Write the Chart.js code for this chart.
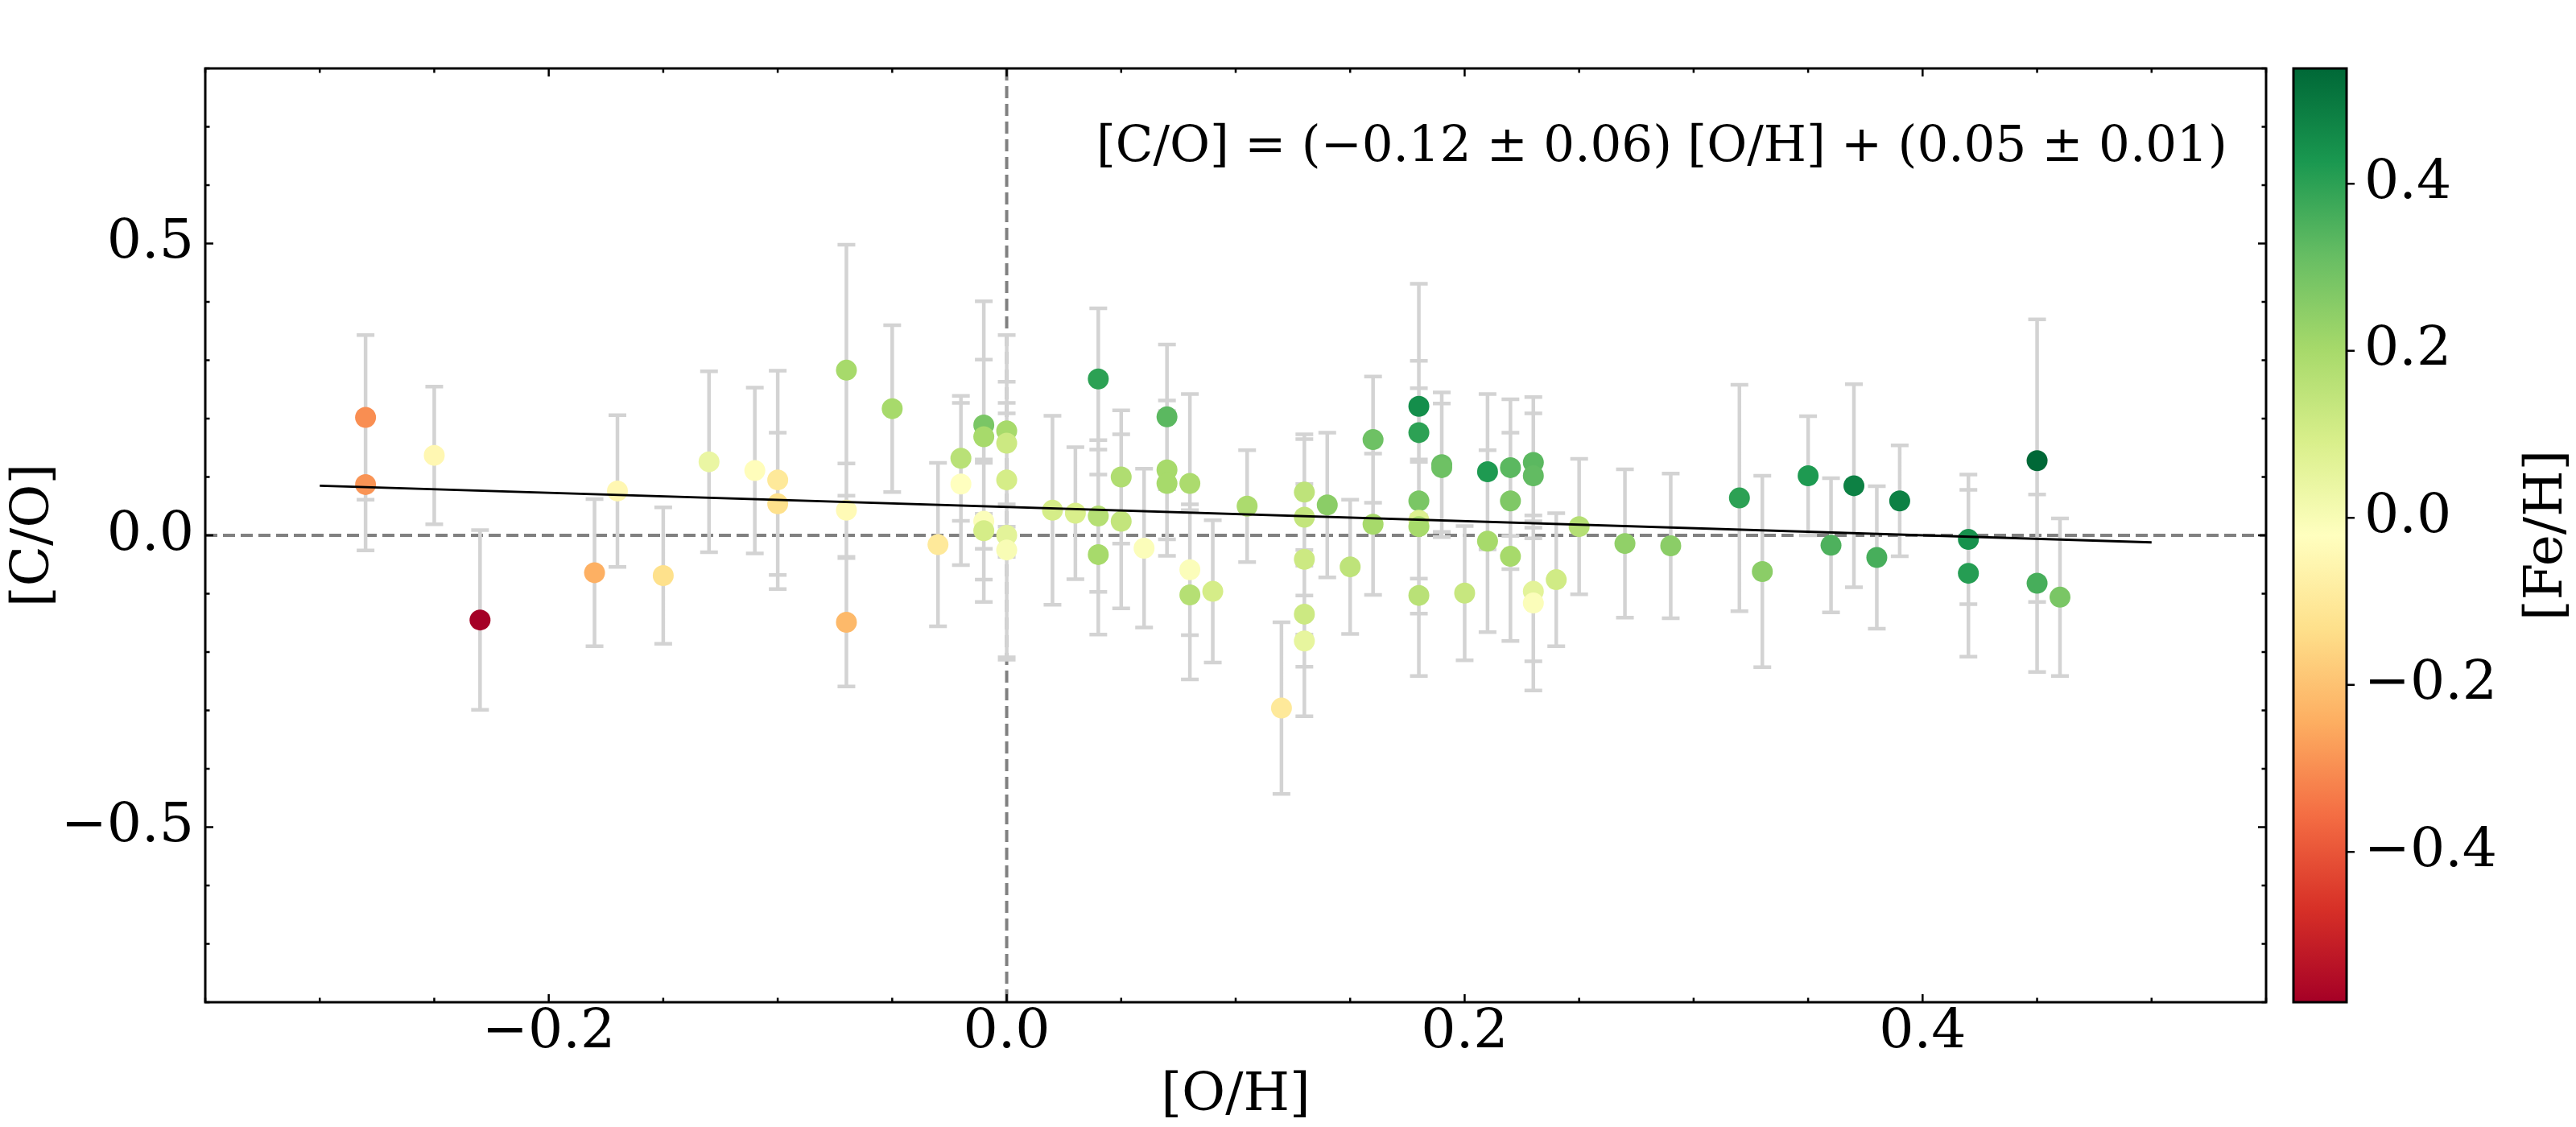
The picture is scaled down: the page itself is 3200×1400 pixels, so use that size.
<!DOCTYPE html>
<html>
<head>
<meta charset="utf-8">
<script src="https://cdn.jsdelivr.net/npm/chart.js@4.4.1/dist/chart.umd.min.js"></script>
<style>
  html, body { margin: 0; padding: 0; background: #fff; }
  #wrap { width: 3200px; height: 1400px; }
</style>
</head>
<body>
<div id="wrap"><canvas id="chart" width="3200" height="1400"></canvas></div>
<script>
// [O/H] of each star
const oh = [
  -0.28, -0.28, -0.25, -0.23, -0.18, -0.17, -0.15, -0.13, -0.11,
  -0.10, -0.10, -0.07, -0.07, -0.07, -0.05, -0.03, -0.02, -0.02,
  -0.01, -0.01, -0.01, -0.01, 0.00, 0.00, 0.00, 0.00, 0.00,
  0.02, 0.03, 0.04, 0.04, 0.04, 0.05, 0.05, 0.06, 0.07, 0.07, 0.07,
  0.08, 0.08, 0.08, 0.09, 0.105, 0.12,
  0.13, 0.13, 0.13, 0.13, 0.13, 0.14, 0.15, 0.16, 0.16,
  0.18, 0.18, 0.18, 0.18, 0.18, 0.18, 0.19, 0.19, 0.20, 0.21, 0.21,
  0.22, 0.22, 0.22, 0.23, 0.23, 0.23, 0.23, 0.24, 0.25, 0.27, 0.29,
  0.32, 0.33, 0.35, 0.36, 0.37, 0.38, 0.39, 0.42, 0.42, 0.45, 0.45, 0.46
];
// [C/O]
const co = [
  0.202, 0.087, 0.137, -0.145, -0.064, 0.076, -0.069, 0.126, 0.111,
  0.095, 0.054, 0.283, 0.043, -0.149, 0.217, -0.016, 0.132, 0.088,
  0.189, 0.169, 0.024, 0.008, 0.179, 0.158, 0.095, 0.000, -0.025,
  0.043, 0.038, 0.268, 0.033, -0.033, 0.100, 0.024, -0.022, 0.203, 0.112, 0.089,
  0.089, -0.059, -0.102, -0.096, 0.050, -0.296,
  0.074, 0.031, -0.041, -0.135, -0.181, 0.052, -0.054, 0.164, 0.019,
  0.221, 0.176, 0.059, 0.026, 0.015, -0.103, 0.121, 0.116, -0.099, 0.109, -0.010,
  0.116, 0.059, -0.036, 0.125, 0.102, -0.096, -0.116, -0.076, 0.015, -0.014, -0.018,
  0.064, -0.062, 0.102, -0.017, 0.085, -0.038, 0.059, -0.007, -0.065, 0.128, -0.082, -0.106
];
// [C/O] uncertainty
const coErr = [
  0.141, 0.113, 0.118, 0.154, 0.126, 0.130, 0.117, 0.155, 0.142,
  0.187, 0.122, 0.215, 0.080, 0.110, 0.143, 0.140, 0.107, 0.139,
  0.212, 0.132, 0.100, 0.122, 0.164, 0.105, 0.132, 0.209, 0.188,
  0.162, 0.113, 0.121, 0.130, 0.137, 0.114, 0.149, 0.136, 0.124, 0.119, 0.124,
  0.153, 0.112, 0.145, 0.122, 0.096, 0.147,
  0.099, 0.134, 0.129, 0.090, 0.129, 0.124, 0.115, 0.108, 0.121,
  0.210, 0.123, 0.193, 0.100, 0.115, 0.138, 0.124, 0.110, 0.115, 0.133, 0.156,
  0.117, 0.117, 0.145, 0.112, 0.107, 0.120, 0.150, 0.114, 0.116, 0.127, 0.124,
  0.194, 0.164, 0.102, 0.115, 0.174, 0.122, 0.095, 0.111, 0.143, 0.242, 0.152, 0.135
];
// [Fe/H], used for the colour
const feh = [
  -0.30, -0.29, -0.05, -0.58, -0.24, -0.05, -0.13, 0.04, -0.03,
  -0.10, -0.13, 0.20, -0.04, -0.22, 0.20, -0.10, 0.16, -0.02,
  0.28, 0.20, -0.01, 0.10, 0.20, 0.12, 0.10, 0.06, 0.00,
  0.10, 0.09, 0.40, 0.17, 0.20, 0.18, 0.14, -0.01, 0.33, 0.20, 0.20,
  0.19, -0.01, 0.17, 0.10, 0.19, -0.10,
  0.15, 0.14, 0.12, 0.12, 0.05, 0.25, 0.15, 0.30, 0.20,
  0.45, 0.40, 0.28, 0.08, 0.20, 0.16, 0.31, 0.30, 0.13, 0.42, 0.20,
  0.33, 0.27, 0.20, 0.33, 0.32, 0.06, -0.01, 0.11, 0.17, 0.24, 0.25,
  0.40, 0.25, 0.42, 0.35, 0.48, 0.36, 0.48, 0.44, 0.41, 0.538, 0.36, 0.28
];
// linear fit
const fitX = [-0.30, 0.50];
const fitY = [0.085, -0.012];
const fitText = '[C/O] = (\u22120.12 \u00b1 0.06) [O/H] + (0.05 \u00b1 0.01)';

// colour bar
const cbMin = -0.58, cbMax = 0.538;
const cbTicks = [-0.4, -0.2, 0.0, 0.2, 0.4];
const rdylgn = ['#a50026', '#d73027', '#f46d43', '#fdae61', '#fee08b', '#ffffbf',
                '#d9ef8b', '#a6d96a', '#66bd63', '#1a9850', '#006837'];
const FONT = 'DejaVu Serif';

function hex(c) { return [1, 3, 5].map(i => parseInt(c.substr(i, 2), 16)); }
function cmap(v) {
  let t = (v - cbMin) / (cbMax - cbMin);
  t = Math.max(0, Math.min(1, t));
  const p = t * 10, i = Math.min(9, Math.floor(p)), f = p - i;
  const a = hex(rdylgn[i]), b = hex(rdylgn[i + 1]);
  const c = a.map((v, k) => Math.round(v + (b[k] - v) * f));
  return 'rgb(' + c.join(',') + ')';
}
const isMult = (v, s) => Math.abs(v / s - Math.round(v / s)) < 1e-6;
const fmt = (v) => (Math.abs(v) < 1e-9 ? '0.0' : v.toFixed(1).replace('-', '\u2212'));

const decor = {
  id: 'decor',
  beforeDatasetsDraw(chart) {
    const { ctx, chartArea: a, scales: { x, y } } = chart;
    ctx.save();
    ctx.beginPath();
    ctx.rect(a.left, a.top, a.right - a.left, a.bottom - a.top);
    ctx.clip();
    // zero lines
    ctx.strokeStyle = '#808080';
    ctx.lineWidth = 4;
    ctx.setLineDash([15, 7]);
    const y0 = y.getPixelForValue(0), x0 = x.getPixelForValue(0);
    ctx.beginPath();
    ctx.moveTo(a.left, y0); ctx.lineTo(a.right, y0);
    ctx.moveTo(x0, a.top); ctx.lineTo(x0, a.bottom);
    ctx.stroke();
    ctx.setLineDash([]);
    // error bars
    ctx.strokeStyle = '#d3d3d3';
    ctx.lineWidth = 4.5;
    ctx.beginPath();
    oh.forEach((v, i) => {
      const px = x.getPixelForValue(v);
      const t = y.getPixelForValue(co[i] + coErr[i]);
      const b = y.getPixelForValue(co[i] - coErr[i]);
      ctx.moveTo(px, t); ctx.lineTo(px, b);
      ctx.moveTo(px - 11, t); ctx.lineTo(px + 11, t);
      ctx.moveTo(px - 11, b); ctx.lineTo(px + 11, b);
    });
    ctx.stroke();
    ctx.restore();
  },
  afterDraw(chart) {
    const { ctx, chartArea: a, scales: { x, y, cb } } = chart;
    ctx.save();
    ctx.strokeStyle = '#000';
    // tick marks, pointing inwards on all four sides
    ctx.lineWidth = 2.5;
    ctx.beginPath();
    x.ticks.forEach(t => {
      const px = x.getPixelForValue(t.value);
      const len = isMult(t.value, 0.2) ? 10 : 5.5;
      ctx.moveTo(px, a.bottom); ctx.lineTo(px, a.bottom - len);
      ctx.moveTo(px, a.top); ctx.lineTo(px, a.top + len);
    });
    y.ticks.forEach(t => {
      const py = y.getPixelForValue(t.value);
      const len = isMult(t.value, 0.5) ? 10 : 5.5;
      ctx.moveTo(a.left, py); ctx.lineTo(a.left + len, py);
      ctx.moveTo(a.right, py); ctx.lineTo(a.right - len, py);
    });
    ctx.stroke();
    // spines
    ctx.lineWidth = 3;
    ctx.strokeRect(a.left, a.top, a.right - a.left, a.bottom - a.top);

    // colour bar
    const cbL = 2849, cbR = 2915;
    const g = ctx.createLinearGradient(0, cb.getPixelForValue(cbMin), 0, cb.getPixelForValue(cbMax));
    rdylgn.forEach((c, i) => g.addColorStop(i / 10, c));
    ctx.fillStyle = g;
    ctx.fillRect(cbL, a.top, cbR - cbL, a.bottom - a.top);
    ctx.lineWidth = 3;
    ctx.strokeRect(cbL, a.top, cbR - cbL, a.bottom - a.top);
    ctx.lineWidth = 2.5;
    ctx.beginPath();
    cb.ticks.forEach(t => {
      const py = cb.getPixelForValue(t.value);
      ctx.moveTo(cbR, py); ctx.lineTo(cbR + 10, py);
    });
    ctx.stroke();

    // colour bar label
    ctx.fillStyle = '#000';
    ctx.font = '66px "' + FONT + '"';
    ctx.textAlign = 'center';
    ctx.textBaseline = 'middle';
    ctx.translate(3165, (a.top + a.bottom) / 2);
    ctx.rotate(-Math.PI / 2);
    ctx.fillText('[Fe/H]', 0, 0);
    ctx.setTransform(1, 0, 0, 1, 0, 0);

    // fit annotation
    ctx.font = '61px "' + FONT + '"';
    ctx.textAlign = 'left';
    ctx.textBaseline = 'alphabetic';
    ctx.fillText(fitText, 1362, 200);
    ctx.restore();
  }
};

const tickFont = { family: FONT, size: 68, lineHeight: 1 };
const titleFont = { family: FONT, size: 66, lineHeight: 1 };

new Chart(document.getElementById('chart'), {
  type: 'scatter',
  data: {
    datasets: [
      {
        type: 'line',
        data: fitX.map((v, i) => ({ x: v, y: fitY[i] })),
        borderColor: '#000',
        borderWidth: 3,
        pointRadius: 0,
        fill: false,
        order: 1
      },
      {
        data: oh.map((v, i) => ({ x: v, y: co[i] })),
        pointBackgroundColor: feh.map(cmap),
        pointBorderWidth: 0,
        pointRadius: 13,
        order: 2
      }
    ]
  },
  options: {
    responsive: false,
    devicePixelRatio: 1,
    animation: false,
    events: [],
    layout: { padding: { top: 85, left: 0, right: 0, bottom: 0 } },
    plugins: { legend: { display: false }, tooltip: { enabled: false } },
    scales: {
      x: {
        type: 'linear',
        min: -0.35, max: 0.55,
        bounds: 'data',
        grid: { display: false, drawTicks: false },
        border: { display: false },
        ticks: {
          stepSize: 0.05, autoSkip: false, maxRotation: 0, padding: 4,
          color: '#000', font: tickFont,
          callback: (v) => (isMult(v, 0.2) ? fmt(v) : '')
        },
        title: { display: true, text: '[O/H]', color: '#000', font: titleFont, padding: { top: 0, bottom: 5 } },
        afterFit: (s) => { s.height = 155; s.paddingLeft = 0; s.paddingRight = 0; }
      },
      y: {
        type: 'linear',
        position: 'left',
        min: -0.8, max: 0.8,
        bounds: 'data',
        grid: { display: false, drawTicks: false },
        border: { display: false },
        ticks: {
          stepSize: 0.1, autoSkip: false, padding: 14,
          color: '#000', font: tickFont,
          callback: (v) => (isMult(v, 0.5) ? fmt(v) : '')
        },
        title: { display: true, text: '[C/O]', color: '#000', font: titleFont, padding: { top: 10, bottom: 0 } },
        afterFit: (s) => { s.width = 255; s.paddingTop = 0; s.paddingBottom = 0; }
      },
      cb: {
        type: 'linear',
        axis: 'y',
        position: 'right',
        min: cbMin, max: cbMax,
        bounds: 'data',
        grid: { display: false, drawTicks: false },
        border: { display: false },
        afterBuildTicks: (s) => { s.ticks = cbTicks.map(v => ({ value: v })); },
        ticks: {
          autoSkip: false, padding: 122,
          color: '#000', font: tickFont,
          callback: (v) => fmt(v)
        },
        afterFit: (s) => { s.width = 385; s.paddingTop = 0; s.paddingBottom = 0; }
      }
    }
  },
  plugins: [decor]
});
</script>
</body>
</html>
